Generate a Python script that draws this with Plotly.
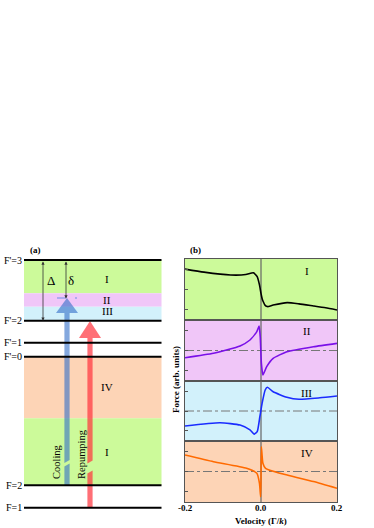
import plotly.graph_objects as go

W, H = 374, 528
SERIF = "Liberation Serif"

# ---------------- data: panel (b) force curves ----------------
v_I = [-0.2, -0.15, -0.08, -0.04, -0.02, -0.01, -0.004, 0.0, 0.003, 0.006, 0.011, 0.017, 0.032, 0.069, 0.1, 0.138, 0.17, 0.2]
f_I = [0.67, 0.57, 0.475, 0.49, 0.55, 0.42, 0.15, -0.13, -0.3, -0.40, -0.52, -0.56, -0.51, -0.43, -0.47, -0.54, -0.6, -0.67]

v_II = [-0.2, -0.125, -0.055, -0.029, -0.011, -0.005, -0.002, 0.001, 0.005, 0.015, 0.032, 0.068, 0.138, 0.2]
f_II = [-0.236, -0.09, 0.15, 0.344, 0.62, 0.80, 0.45, -0.42, -0.80, -0.53, -0.26, -0.04, 0.125, 0.235]

v_III = [-0.2, -0.108, -0.055, -0.029, -0.018, -0.01, -0.003, 0.003, 0.011, 0.017, 0.032, 0.068, 0.1, 0.155, 0.2]
f_III = [-0.5, -0.39, -0.47, -0.63, -0.77, -0.69, -0.19, 0.26, 0.70, 0.79, 0.64, 0.46, 0.39, 0.44, 0.5]

v_IV = [-0.2, -0.125, -0.038, -0.011, -0.004, -0.001, 0.0, 0.001, 0.005, 0.012, 0.05, 0.138, 0.2]
f_IV = [0.54, 0.32, 0.105, -0.06, -0.39, -0.83, -0.28, 0.81, 0.27, 0.105, -0.06, -0.33, -0.55]

curve_colors = ["#000000", "#7a10e8", "#1a2cff", "#ff6a00"]
panel_bg = ["#ccfa9a", "#f0c6f8", "#d2f1fb", "#fdd4b6"]
panel_labels = ["I", "II", "III", "IV"]
x_ticks = [-0.2, 0.0, 0.2]
x_tick_text = ["-0.2", "0.0", "0.2"]

# ---------------- data: panel (a) level scheme ----------------
level_names = ["F'=3", "F'=2", "F'=1", "F'=0", "F=2", "F=1"]
level_E = [0, -60.7, -82.7, -96.7, -225.3, -247.7]
band_lo = [-33.3, -46.7, -60.7, -158.3, -225.3]
band_hi = [0, -33.3, -46.7, -96.7, -158.3]
band_col = ["#ccfa9a", "#f0c6f8", "#d2f1fb", "#fdd4b6", "#ccfa9a"]
band_lab = ["I", "II", "III", "IV", "I"]
band_lab_E = [-19, -40, -51, -127, -192]

fig = go.Figure()

xL, xR = 185 / W, 337 / W
tops = [259, 320, 381, 441]
bots = [320, 381, 441, 502]
curves = [(v_I, f_I), (v_II, f_II), (v_III, f_III), (v_IV, f_IV)]

shapes = []
annotations = []
for i in range(4):
    k = "" if i == 0 else str(i + 1)
    xa, ya = "x" + k, "y" + k
    vx, fy = curves[i]
    fig.add_trace(go.Scatter(x=vx, y=fy, mode="lines", xaxis=xa, yaxis=ya,
                             line=dict(color=curve_colors[i], width=1.6, shape="spline", smoothing=0.5),
                             showlegend=False, hoverinfo="skip"))
    dom_y = [1 - bots[i] / H, 1 - tops[i] / H]
    fig.update_layout(**{
        ("xaxis" + k): dict(domain=[xL, xR], anchor=ya, range=[-0.2, 0.2], showgrid=False, zeroline=False,
                            showline=True, mirror=True, linecolor="#555", linewidth=1,
                            tickvals=x_ticks, showticklabels=False, ticks=""),
        ("yaxis" + k): dict(domain=dom_y, anchor=xa, range=[-1, 1], showgrid=False, zeroline=False,
                            showline=True, mirror=True, linecolor="#555", linewidth=1,
                            tickvals=[-0.66, 0, 0.66], ticks="inside", ticklen=3, tickcolor="#555",
                            showticklabels=False),
    })
    shapes.append(dict(type="rect", xref=xa + " domain", yref=ya + " domain", x0=0, x1=1, y0=0, y1=1,
                       fillcolor=panel_bg[i], line=dict(width=0), layer="below"))
    if i > 0:
        shapes.append(dict(type="line", xref=xa, yref=ya, x0=-0.2, x1=0.2, y0=0, y1=0,
                           line=dict(color="#777", width=1, dash="dashdot"), layer="below"))
    shapes.append(dict(type="line", xref=xa, yref=ya, x0=0, x1=0, y0=-1, y1=1,
                       line=dict(color="#666", width=1.2), layer="below"))
    annotations.append(dict(x=0.12, y=0.6 if i != 1 else 0.65, xref=xa, yref=ya, text=panel_labels[i],
                            showarrow=False, font=dict(family=SERIF, size=11, color="#000")))

# bottom tick labels placed on the velocity scale of the lowest panel
for tv, tt in zip(x_ticks, x_tick_text):
    annotations.append(dict(x=tv, y=1 - 508 / H, xref="x4", yref="paper", text=f"<b>{tt}</b>",
                            showarrow=False, xanchor="center", yanchor="middle",
                            font=dict(family=SERIF, size=9, color="#000")))

# ---------------- left panel axis ----------------
fig.update_layout(
    xaxis5=dict(domain=[20 / W, 166 / W], range=[20, 166], anchor="y5", visible=False),
    yaxis5=dict(domain=[1 - 512 / H, 1 - 255 / H], range=[-252, 5], anchor="x5", visible=False),
)
fig.add_trace(go.Scatter(x=[20], y=[-252], xaxis="x5", yaxis="y5", mode="markers",
                         marker=dict(opacity=0), showlegend=False, hoverinfo="skip"))

x0L, x1L = 24, 161.5
for lo, hi, c in zip(band_lo, band_hi, band_col):
    shapes.append(dict(type="rect", xref="x5", yref="y5", x0=x0L, x1=x1L, y0=lo, y1=hi,
                       fillcolor=c, line=dict(width=0), layer="below"))
for lab, e in zip(band_lab, band_lab_E):
    annotations.append(dict(x=107, y=e, xref="x5", yref="y5", text=lab, showarrow=False,
                            font=dict(family=SERIF, size=11, color="#000")))

arrow_x = [67, 90]
arrow_from = [-225.3, -247.7]
arrow_base = [-53, -78]
arrow_tip = [-38, -61]
arrow_gap = [(-201.5, -205), (-202, -212)]
arrow_col = ["rgba(50,110,200,0.6)", "rgba(255,50,60,0.7)"]
arrow_lab = ["Cooling", "Repumping"]
arrow_lab_pos = [(56, -202), (81, -194)]
hw, hh = 2.6, 11
for ax_, a0, ab, at, (g1, g2), col in zip(arrow_x, arrow_from, arrow_base, arrow_tip, arrow_gap, arrow_col):
    shapes.append(dict(type="path", xref="x5", yref="y5", fillcolor=col, line=dict(width=0),
                       path=f"M{ax_-hw},{ab} L{ax_+hw},{ab} L{ax_+hw},{g1+1.5} L{ax_-hw},{g1-1.5} Z"))
    shapes.append(dict(type="path", xref="x5", yref="y5", fillcolor=col, line=dict(width=0),
                       path=f"M{ax_-hw},{g2-1.5} L{ax_+hw},{g2+1.5} L{ax_+hw},{a0} L{ax_-hw},{a0} Z"))
    shapes.append(dict(type="path", xref="x5", yref="y5", fillcolor=col, line=dict(width=0),
                       path=f"M{ax_-hh},{ab} L{ax_+hh},{ab} L{ax_},{at} Z"))
for lab, (lx, ly) in zip(arrow_lab, arrow_lab_pos):
    annotations.append(dict(x=lx, y=ly, xref="x5", yref="y5", text=lab, textangle=-90, showarrow=False,
                            font=dict(family=SERIF, size=10.5, color="#000")))

shapes.append(dict(type="line", xref="x5", yref="y5", x0=57, x1=77, y0=-38, y1=-38,
                   line=dict(color="#6d8fe8", width=1, dash="dash")))

for name, e in zip(level_names, level_E):
    shapes.append(dict(type="line", xref="x5", yref="y5", x0=x0L, x1=x1L, y0=e, y1=e,
                       line=dict(color="#000", width=2)))
    annotations.append(dict(x=x0L, y=e, xref="x5", yref="y5", text=name, showarrow=False,
                            xanchor="right", font=dict(family=SERIF, size=10, color="#000")))

for (xx, ytop, ybot) in [(43, 0, -60.7), (66, 0, -38.5)]:
    annotations.append(dict(x=xx, y=ybot, ax=xx, ay=ytop, xref="x5", yref="y5", axref="x5", ayref="y5",
                            text="", showarrow=True, arrowhead=2, startarrowhead=2, arrowside="end+start",
                            arrowsize=0.8, arrowwidth=0.8, arrowcolor="#333"))
annotations.append(dict(x=51, y=-20, xref="x5", yref="y5", text="Δ", showarrow=False,
                        font=dict(family=SERIF, size=13, color="#000")))
annotations.append(dict(x=71, y=-20, xref="x5", yref="y5", text="δ", showarrow=False,
                        font=dict(family=SERIF, size=13, color="#000")))

annotations += [
    dict(x=35 / W, y=1 - 250 / H, xref="paper", yref="paper", text="<b>(a)</b>", showarrow=False,
         xanchor="center", yanchor="middle", font=dict(family=SERIF, size=9, color="#000")),
    dict(x=195 / W, y=1 - 250 / H, xref="paper", yref="paper", text="<b>(b)</b>", showarrow=False,
         xanchor="center", yanchor="middle", font=dict(family=SERIF, size=9, color="#000")),
    dict(x=176 / W, y=1 - 380 / H, xref="paper", yref="paper", text="<b>Force (arb. units)</b>",
         textangle=-90, showarrow=False, xanchor="center", yanchor="middle",
         font=dict(family=SERIF, size=9, color="#000")),
    dict(x=261 / W, y=1 - 521 / H, xref="paper", yref="paper", text="<b>Velocity (Γ/<i>k</i>)</b>",
         showarrow=False, xanchor="center", yanchor="middle", font=dict(family=SERIF, size=9, color="#000")),
]

fig.update_layout(width=W, height=H, margin=dict(l=0, r=0, t=0, b=0),
                  paper_bgcolor="white", plot_bgcolor="rgba(0,0,0,0)",
                  shapes=shapes, annotations=annotations, showlegend=False)
fig.write_html("out.html", config={"displayModeBar": False},
               post_script="document.body.style.margin='0';document.body.style.overflow='hidden';")
